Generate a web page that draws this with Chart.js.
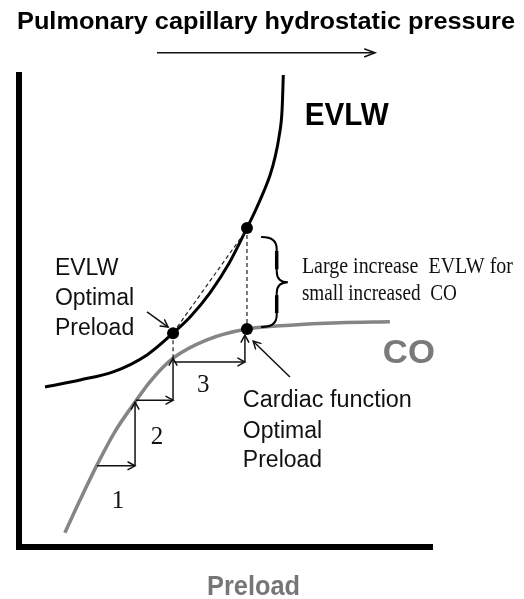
<!DOCTYPE html>
<html><head><meta charset="utf-8">
<script src="https://cdn.jsdelivr.net/npm/chart.js@4.4.1/dist/chart.umd.min.js"></script>
<style>html,body{margin:0;padding:0;background:#fff;}</style>
</head><body>
<canvas id="c" width="524" height="599"></canvas>
<script>
// ---------- data (arbitrary units: preload 0-100, value 0-100) ----------
const titleText = 'Pulmonary capillary hydrostatic pressure';
const xTitleText = 'Preload';
const seriesNames = ['EVLW', 'CO'];

const evlwX = [6.3, 14.8, 22.8, 31.0, 37.3, 41.6, 46.2, 50.8, 55.2, 57.4, 59.3, 60.8, 62.0, 63.0, 63.7, 64.0];
const evlwY = [33.9, 35.4, 37.1, 40.7, 45.3, 48.9, 53.8, 60.0, 67.6, 71.6, 75.4, 78.8, 82.6, 87.1, 92.6, 100.0];

const coX = [11.1, 14.8, 18.9, 23.2, 28.1, 31.7, 37.3, 45.5, 55.2, 65.6, 77.7, 89.8];
const coY = [3.0, 10.0, 17.4, 24.4, 30.7, 35.0, 40.0, 43.9, 46.2, 47.0, 47.5, 47.7];

// optimal-preload points: [EVLW optimum, EVLW at cardiac optimum, CO at cardiac optimum]
const pointX = [37.3, 55.2, 55.2];
const pointY = [45.3, 67.6, 46.2];

// preload steps 1-3 (horizontal then vertical)
const stepStartX = [18.9, 28.3, 37.5];
const stepEndX   = [28.1, 37.3, 54.7];
const stepBaseY  = [17.2, 31.1, 39.2];
const stepTopY   = [30.7, 40.0, 44.9];
const stepLabels = ['1', '2', '3'];

// dashed guides [x0, y0, x1, y1]
const guideA = [37.3, 45.3, 37.3, 40.0];
const guideB = [55.2, 67.6, 55.2, 46.2];
const guideC = [38.3, 46.6, 54.7, 66.7];

// pointer arrows [x0, y0, x1, y1]
const pointerEvlw = [31.0, 49.8, 36.1, 46.6];
const pointerCardiac = [65.6, 36.0, 56.7, 43.6];
const headerArrow = [33.4, 104.7, 86.2, 104.7];

const leftLabelLines = ['EVLW', 'Optimal', 'Preload'];
const rightLabelLines = ['Cardiac function', 'Optimal', 'Preload'];
const braceLines = ['Large increase  EVLW for', 'small increased  CO'];

// ---------- build datasets ----------
const xy = (xs, ys) => xs.map((x, i) => ({x, y: ys[i]}));
const seg = s => [{x: s[0], y: s[1]}, {x: s[2], y: s[3]}];

const datasets = [];
datasets.push({label: seriesNames[0], data: xy(evlwX, evlwY), showLine: true, borderColor: '#000', borderWidth: 3,
  pointRadius: 0, cubicInterpolationMode: 'monotone', order: 5});
datasets.push({label: seriesNames[1], data: xy(coX, coY), showLine: true, borderColor: '#858585', borderWidth: 3.5,
  pointRadius: 0, cubicInterpolationMode: 'monotone', order: 6});
for (let i = 0; i < 3; i++) {
  datasets.push({label: 'step' + i + 'h', data: [{x: stepStartX[i], y: stepBaseY[i]}, {x: stepEndX[i], y: stepBaseY[i]}],
    showLine: true, borderColor: '#111', borderWidth: 1.5, pointRadius: 0, arrowHead: true, order: 4});
  datasets.push({label: 'step' + i + 'v', data: [{x: stepEndX[i], y: stepBaseY[i]}, {x: stepEndX[i], y: stepTopY[i]}],
    showLine: true, borderColor: '#111', borderWidth: 1.5, pointRadius: 0, arrowHead: true, order: 4});
}
[guideA, guideB, guideC].forEach((g, i) => datasets.push({label: 'guide' + i, data: seg(g), showLine: true,
  borderColor: '#222', borderWidth: 1.2, borderDash: [4, 3], pointRadius: 0, order: 4}));
[pointerEvlw, pointerCardiac].forEach((g, i) => datasets.push({label: 'pointer' + i, data: seg(g), showLine: true,
  borderColor: '#111', borderWidth: 1.5, pointRadius: 0, arrowHead: true, order: 4}));
datasets.push({label: 'header', data: seg(headerArrow), showLine: true, borderColor: '#111', borderWidth: 1.5,
  pointRadius: 0, arrowHead: true, headLen: 11, headAng: 0.36, clip: false, order: 4});
datasets.push({label: 'optima', data: xy(pointX, pointY), showLine: false, pointRadius: 6, pointHoverRadius: 6,
  backgroundColor: '#000', borderColor: '#000', borderWidth: 0, order: 1});

// ---------- helpers ----------
function drawText(ctx, text, x, y, font, color, align, width) {
  ctx.save();
  ctx.font = font; ctx.fillStyle = color; ctx.textBaseline = 'alphabetic'; ctx.textAlign = align || 'left';
  let sx = 1;
  if (width) sx = width / ctx.measureText(text).width;
  ctx.translate(x, y); ctx.scale(sx, 1);
  ctx.fillText(text, 0, 0);
  ctx.restore();
}
function arrowHead(ctx, x0, y0, x1, y1, len, ang) {
  const a = Math.atan2(y1 - y0, x1 - x0);
  ctx.beginPath();
  ctx.moveTo(x1 - len * Math.cos(a - ang), y1 - len * Math.sin(a - ang));
  ctx.lineTo(x1, y1);
  ctx.lineTo(x1 - len * Math.cos(a + ang), y1 - len * Math.sin(a + ang));
  ctx.stroke();
}

const SANS = '"Liberation Sans", Arial, sans-serif';
const SERIF = '"Liberation Serif", "Times New Roman", serif';

const annotations = {
  id: 'annotations',
  afterDatasetsDraw(chart) {
    const ctx = chart.ctx;
    const xs = chart.scales.x, ys = chart.scales.y;
    const X = v => xs.getPixelForValue(v), Y = v => ys.getPixelForValue(v);

    // arrowheads on arrow datasets
    chart.data.datasets.forEach((ds, i) => {
      if (!ds.arrowHead) return;
      const pts = chart.getDatasetMeta(i).data;
      const p0 = pts[pts.length - 2], p1 = pts[pts.length - 1];
      ctx.save();
      ctx.strokeStyle = ds.borderColor; ctx.lineWidth = ds.borderWidth; ctx.lineCap = 'round'; ctx.lineJoin = 'miter';
      arrowHead(ctx, p0.x, p0.y, p1.x, p1.y, ds.headLen || 8, ds.headAng || 0.5);
      ctx.restore();
    });

    // brace
    const L = X(58.8), T = X(65.1), S = X(62.4);
    const top = Y(65.7), bot = Y(46.6), mid = Y(56.1);
    ctx.save();
    ctx.strokeStyle = '#000'; ctx.lineCap = 'round';
    ctx.lineWidth = 2;
    ctx.beginPath();
    ctx.moveTo(L, top);
    ctx.quadraticCurveTo(S, top, S, top + 12);
    ctx.lineTo(S, mid - 11);
    ctx.quadraticCurveTo(S, mid, T, mid);
    ctx.quadraticCurveTo(S, mid, S, mid + 11);
    ctx.lineTo(S, bot - 12);
    ctx.quadraticCurveTo(S, bot, L, bot);
    ctx.stroke();
    ctx.lineWidth = 3.5; ctx.lineCap = 'butt';
    ctx.beginPath(); ctx.moveTo(S, top + 14); ctx.lineTo(S, mid - 13); ctx.stroke();
    ctx.beginPath(); ctx.moveTo(S, mid + 13); ctx.lineTo(S, bot - 14); ctx.stroke();
    ctx.restore();

    // text labels
    const f23 = '23px ' + SANS;
    const leftBase = [57.6, 51.3, 44.9];
    leftLabelLines.forEach((t, i) => drawText(ctx, t, X(8.7), Y(leftBase[i]), f23, '#111'));
    const rightBase = [29.7, 23.1, 16.9];
    rightLabelLines.forEach((t, i) => drawText(ctx, t, X(54.2), Y(rightBase[i]), f23, '#111', 'left', i === 0 ? 169 : null));
    const braceBase = [58.1, 52.3], braceW = [211, 155];
    braceLines.forEach((t, i) => drawText(ctx, t, X(68.5), Y(braceBase[i]), '23px ' + SERIF, '#111', 'left', braceW[i]));
    const stepLX = [24.0, 33.4, 44.6], stepLY = [8.2, 21.9, 32.9];
    stepLabels.forEach((t, i) => drawText(ctx, t, X(stepLX[i]), Y(stepLY[i]), '25px ' + SERIF, '#111', 'center'));
    drawText(ctx, seriesNames[0], X(69.2), Y(89.4), 'bold 31px ' + SANS, '#000', 'left', 84);
    drawText(ctx, seriesNames[1], X(88.1), Y(39.0), 'bold 34px ' + SANS, '#7a7a7a', 'left', 52);

    // chart title and axis title
    drawText(ctx, titleText, 266, 29, 'bold 23px ' + SANS, '#000', 'center', 498);
    drawText(ctx, xTitleText, 253.5, 595, 'bold 27px ' + SANS, '#767676', 'center', 93);
  }
};

new Chart(document.getElementById('c'), {
  type: 'scatter',
  data: {datasets},
  options: {
    responsive: false,
    animation: false,
    devicePixelRatio: 1,
    layout: {padding: {left: 19, right: 92, top: 75, bottom: 52}},
    plugins: {legend: {display: false}, tooltip: {enabled: false}, title: {display: false}},
    scales: {
      x: {type: 'linear', min: 0, max: 100, ticks: {display: false},
          grid: {display: false, drawTicks: false}, border: {display: true, color: '#000', width: 6}},
      y: {type: 'linear', min: 0, max: 100, ticks: {display: false},
          grid: {display: false, drawTicks: false}, border: {display: true, color: '#000', width: 6}}
    }
  },
  plugins: [annotations]
});
</script>
</body></html>
